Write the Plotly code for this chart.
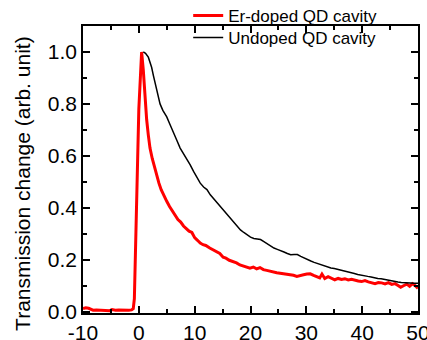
import plotly.graph_objects as go

# Er-doped QD cavity (red)
er_x = [-10.0, -9.5, -9.0, -8.6, -8.2, -7.6, -7.0, -6.4, -5.8, -5.2, -4.8, -4.2, -3.6, -3.0, -2.4, -1.8, -1.3,
        -1.0, -0.8, -0.6, -0.4, -0.2, 0.0, 0.2, 0.5, 0.8, 1.1, 1.4, 1.7, 2.0, 2.4, 2.8, 3.2, 3.6, 4.0, 4.5,
        5.0, 5.5, 6.0, 6.5, 7.0, 7.5, 8.0, 8.5, 9.0, 9.5, 10.0, 10.5, 11.0, 11.5, 12.0, 12.7, 13.3, 14.0,
        14.5, 15.1, 15.6, 16.2, 16.9, 17.5, 18.1, 18.7, 19.3, 19.9, 20.5, 21.1, 21.7, 22.3, 22.9, 23.5,
        24.1, 24.7, 25.3, 25.9, 26.5, 27.1, 27.7, 28.3, 28.9, 29.5, 30.1, 30.7, 31.3, 31.9, 32.4, 32.8,
        33.3, 33.9, 34.5, 35.1, 35.7, 36.3, 36.9, 37.5, 38.1, 38.7, 39.3, 39.9, 40.5, 41.1, 41.7, 42.3,
        42.9, 43.5, 44.1, 44.7, 45.3, 45.9, 46.5, 46.9, 47.4, 48.0, 48.5, 49.0, 49.5, 50.0]
er_y = [0.012, 0.015, 0.013, 0.008, 0.006, 0.007, 0.006, 0.005, 0.006, 0.004, 0.008, 0.006, 0.007, 0.006,
        0.005, 0.006, 0.007, 0.012, 0.05, 0.2, 0.4, 0.6, 0.78, 0.9, 1.0, 0.93, 0.82, 0.74, 0.68, 0.63,
        0.59, 0.555, 0.525, 0.495, 0.47, 0.445, 0.425, 0.405, 0.39, 0.37, 0.355, 0.345, 0.33, 0.32, 0.31,
        0.305, 0.285, 0.275, 0.264, 0.258, 0.255, 0.245, 0.238, 0.232, 0.224, 0.21, 0.206, 0.198, 0.194,
        0.188, 0.18, 0.176, 0.172, 0.168, 0.172, 0.165, 0.17, 0.162, 0.159, 0.155, 0.152, 0.15, 0.148,
        0.146, 0.145, 0.142, 0.14, 0.136, 0.138, 0.142, 0.145, 0.146, 0.14, 0.134, 0.13, 0.145, 0.128,
        0.135, 0.13, 0.123, 0.128, 0.124, 0.127, 0.122, 0.125, 0.12, 0.118, 0.116, 0.12, 0.115, 0.11,
        0.108, 0.112, 0.111, 0.107, 0.112, 0.105, 0.108, 0.1, 0.094, 0.1, 0.106, 0.098, 0.108, 0.1, 0.09]

# Undoped QD cavity (black)
un_x = [0.8, 1.2, 1.7, 2.0, 2.3, 2.6, 2.9, 3.3, 3.8, 4.3, 5.0, 5.6, 6.2, 6.8, 7.4, 8.0, 8.6, 9.2, 9.8,
        10.4, 11.0, 11.6, 12.2, 12.8, 13.4, 14.0, 14.6, 15.2, 15.8, 16.4, 17.0, 17.6, 18.2, 18.8, 19.4,
        20.0, 20.6, 21.2, 21.8, 22.4, 23.0, 23.6, 24.2, 24.8, 25.4, 26.0, 26.6, 27.2, 27.8, 28.4, 29.0,
        29.6, 30.2, 30.8, 31.4, 32.0, 32.6, 33.2, 33.8, 34.4, 35.0, 35.6, 36.2, 36.8, 37.4, 38.0, 38.6,
        39.2, 39.8, 40.4, 41.0, 41.6, 42.2, 42.8, 43.4, 44.0, 44.6, 45.2, 45.8, 46.4, 47.0, 47.6, 48.2,
        48.8, 49.4, 50.0]
un_y = [1.0, 0.995, 0.98, 0.96, 0.94, 0.91, 0.88, 0.845, 0.8, 0.775, 0.75, 0.72, 0.687, 0.66, 0.63, 0.61,
        0.59, 0.565, 0.54, 0.515, 0.495, 0.48, 0.47, 0.45, 0.435, 0.42, 0.405, 0.39, 0.375, 0.36, 0.345,
        0.33, 0.315, 0.305, 0.295, 0.287, 0.282, 0.28, 0.278, 0.27, 0.262, 0.252, 0.245, 0.24, 0.236, 0.23,
        0.224, 0.219, 0.22, 0.22, 0.213, 0.206, 0.2, 0.195, 0.19, 0.185, 0.18, 0.175, 0.171, 0.168, 0.166,
        0.163, 0.16, 0.158, 0.155, 0.151, 0.147, 0.143, 0.14, 0.138, 0.136, 0.134, 0.13, 0.128, 0.127,
        0.124, 0.121, 0.118, 0.116, 0.114, 0.112, 0.111, 0.11, 0.11, 0.11, 0.11]

x_ticks = [-10, 0, 10, 20, 30, 40, 50]
x_tick_labels = ["-10", "0", "10", "20", "30", "40", "50"]
y_ticks = [0.0, 0.2, 0.4, 0.6, 0.8, 1.0]
y_tick_labels = ["0.0", "0.2", "0.4", "0.6", "0.8", "1.0"]

FONT = "Liberation Sans"

fig = go.Figure()
fig.add_trace(go.Scatter(x=er_x, y=er_y, mode="lines", name="Er-doped QD cavity",
                         line=dict(color="#ff0000", width=3), legend="legend"))
fig.add_trace(go.Scatter(x=un_x, y=un_y, mode="lines", name="Undoped QD cavity",
                         line=dict(color="#000000", width=1.5), legend="legend2"))

axis_common = dict(showline=True, linecolor="black", linewidth=1.5, mirror="ticks",
                   ticks="inside", ticklen=7, tickwidth=1.5, tickcolor="black",
                   showgrid=False, zeroline=False, ticklabeloverflow="allow",
                   tickfont=dict(family=FONT, size=21, color="black"))

fig.update_xaxes(range=[-10, 50], tickvals=x_ticks, ticktext=x_tick_labels,
                 minor=dict(ticks="inside", ticklen=4, tickwidth=1.5, dtick=5, tick0=0, tickcolor="black"),
                 **axis_common)
fig.update_yaxes(range=[-0.005, 1.1], tickvals=y_ticks, ticktext=y_tick_labels,
                 minor=dict(ticks="inside", ticklen=4, tickwidth=1.5, dtick=0.1, tick0=0, tickcolor="black"),
                 **axis_common)

fig.add_annotation(text="Transmission change (arb. unit)", xref="paper", yref="paper",
                   x=-0.179, y=0.45, textangle=-90, showarrow=False,
                   font=dict(family=FONT, size=21, color="black"),
                   xanchor="center", yanchor="middle")

legend_common = dict(xanchor="left", yanchor="middle", bgcolor="rgba(0,0,0,0)", borderwidth=0,
                     font=dict(family=FONT, size=17, color="black"))

fig.update_layout(
    width=427, height=340,
    margin=dict(l=83, r=9, t=26, b=27, autoexpand=False),
    paper_bgcolor="white", plot_bgcolor="white",
    showlegend=True,
    legend=dict(x=0.314, y=1.035, **legend_common),
    legend2=dict(x=0.314, y=0.958, **legend_common),
)

fig.write_html("out.html", config={"displayModeBar": False},
               post_script="document.body.style.margin='0';document.body.style.overflow='hidden';")
